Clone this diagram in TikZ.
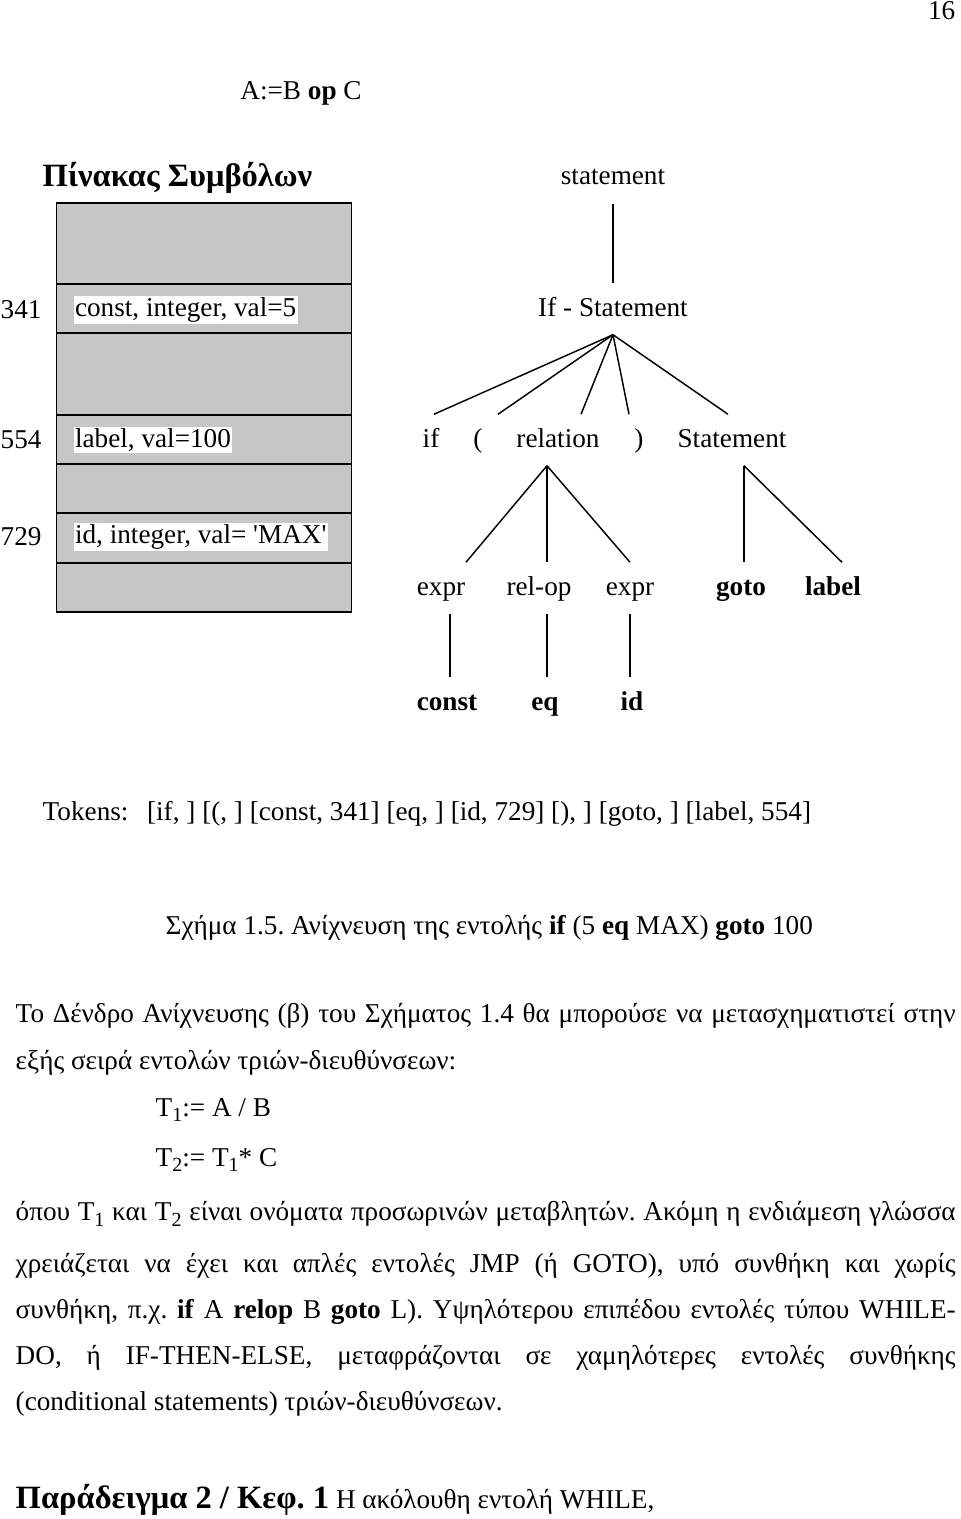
\documentclass[tikz,border=0pt]{standalone}
\usepackage{fontspec}
\setmainfont{Liberation Serif}[Ligatures=TeXOff]
\usetikzlibrary{positioning, calc}
\frenchspacing
\newcommand{\lowsub}[1]{\raisebox{-0.45ex}{\fontsize{15}{16}\selectfont #1}}

\begin{document}
\begin{tikzpicture}[x=0.75pt, y=-0.75pt, line width=1.1pt, font=\fontsize{20.4}{24}\selectfont,
    word/.style={inner xsep=0pt, inner ysep=9pt, text height=15pt, text depth=4.5pt},
    boldword/.style={word, font=\fontsize{20.4}{24}\selectfont\bfseries},
    cell/.style={draw, fill=gray!45, line width=1pt},
    entry/.style={fill=white, inner sep=1pt, anchor=west},
    line/.style={anchor=west, inner sep=0pt},
    bigbold/.style={font=\fontsize{24.4}{28}\selectfont\bfseries}]
    \useasboundingbox (0,0) rectangle (960,1519);

    % page number and heading
    \node[anchor=east, inner sep=0pt] (page) at (956,11) {16};
    \node[inner sep=0pt] (assign) at (301,93) {A:=B \textbf{op} C};
    \node[line, bigbold] (symtitle) at (42,178) {Πίνακας Συμβόλων};

    % symbol table
    \foreach \ya/\yb in {203/284, 284/333, 333/415, 415/464, 464/513, 513/563, 563/612}
        \draw[cell] (56.5,\ya) rectangle (351.5,\yb);
    \node[line] (n341) at (0,310) {341};
    \node[entry] (e341) at (73,310) {const, integer, val=5};
    \node[line] (n554) at (0,440) {554};
    \node[entry] (e554) at (73,440) {label, val=100};
    \node[line] (n729) at (0,537) {729};
    \node[entry] (e729) at (73,537) {id, integer, val= 'MAX'};

    % parse tree
    \node[word] (stmt) at (613,178) {statement};
    \node[word] (ifst) at (613,309) {If - Statement};
    \node[word] (kwif) at (431,440) {if};
    \node[word] (lpar) at (478,440) {(};
    \node[word] (rel) at (558,440) {relation};
    \node[word] (rpar) at (639,440) {)};
    \node[word] (body) at (732,440) {Statement};
    \node[word] (exprl) at (441,588) {expr};
    \node[word] (relop) at (539,588) {rel-op};
    \node[word] (exprr) at (630,588) {expr};
    \node[boldword] (kwgoto) at (741,588) {goto};
    \node[boldword] (kwlabel) at (833,588) {label};
    \node[boldword] (const) at (447,703) {const};
    \node[boldword] (eq) at (545,703) {eq};
    \node[boldword] (id) at (632,703) {id};

    \draw (stmt) -- (ifst);
    \draw (ifst.south) -- ($(kwif.north)+(3,0)$);
    \draw (ifst.south) -- ($(lpar.north)+(20,0)$);
    \draw (ifst.south) -- ($(rel.north)+(23,0)$);
    \draw (ifst.south) -- ($(rpar.north)+(-10,0)$);
    \draw (ifst.south) -- ($(body.north)+(-4,0)$);
    \draw ($(rel.south)+(-11,0)$) -- ($(exprl.north)+(25,0)$);
    \draw ($(rel.south)+(-11,0)$) -- ($(relop.north)+(8,0)$);
    \draw ($(rel.south)+(-11,0)$) -- (exprr.north);
    \draw ($(body.south)+(12,0)$) -- ($(kwgoto.north)+(3,0)$);
    \draw ($(body.south)+(12,0)$) -- ($(kwlabel.north)+(9,0)$);
    \draw ($(exprl.south)+(9,0)$) -- ($(const.north)+(3,0)$);
    \draw ($(relop.south)+(8,0)$) -- ($(eq.north)+(2,0)$);
    \draw (exprr.south) -- ($(id.north)+(-2,0)$);

    % tokens and caption
    \node[line] (tokens) at (42,814) {Tokens:\hspace{14pt}[if, ] [(, ] [const, 341] [eq, ] [id, 729] [), ] [goto, ] [label, 554]};
    \node[line] (caption) at (165,928) {Σχήμα 1.5. Ανίχνευση της εντολής \textbf{if} (5 \textbf{eq} MAX) \textbf{goto} 100};

    % text below
    \node[line] (par1) at (15,1016) {\makebox[705pt][s]{Το Δένδρο Ανίχνευσης (β) του Σχήματος 1.4 θα μπορούσε να μετασχηματιστεί στην}};
    \node[line] (par2) at (15,1063) {εξής σειρά εντολών τριών-διευθύνσεων:};
    \node[line] (tone) at (155,1110) {T\lowsub{1}:= A / B};
    \node[line] (ttwo) at (155,1160) {T\lowsub{2}:= T\lowsub{1}* C};
    \node[line] (par3) at (15,1214) {\makebox[705pt][s]{όπου T\lowsub{1} και T\lowsub{2} είναι ονόματα προσωρινών μεταβλητών. Ακόμη η ενδιάμεση γλώσσα}};
    \node[line] (par4) at (15,1266) {\makebox[705pt][s]{χρειάζεται να έχει και απλές εντολές JMP (ή GOTO), υπό συνθήκη και χωρίς}};
    \node[line] (par5) at (15,1312) {\makebox[705pt][s]{συνθήκη, π.χ. \textbf{if} A \textbf{relop} B \textbf{goto} L). Υψηλότερου επιπέδου εντολές τύπου WHILE-}};
    \node[line] (par6) at (15,1358) {\makebox[705pt][s]{DO, ή IF-THEN-ELSE, μεταφράζονται σε χαμηλότερες εντολές συνθήκης}};
    \node[line] (par7) at (15,1404) {(conditional statements) τριών-διευθύνσεων.};
    \node[line] (example) at (15,1500) {{\fontsize{24.4}{28}\selectfont\bfseries Παράδειγμα 2 / Κεφ. 1} Η ακόλουθη εντολή WHILE,};
\end{tikzpicture}
\end{document}
